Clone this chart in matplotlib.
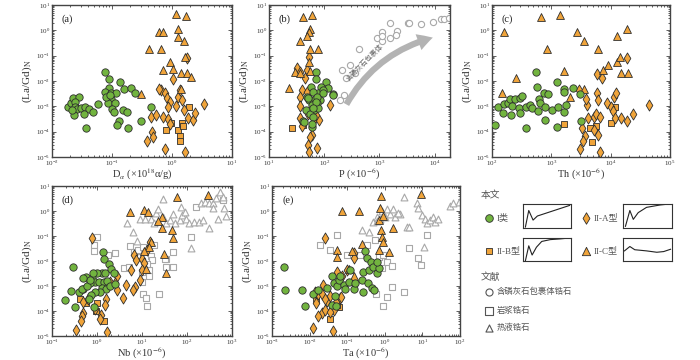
import matplotlib
matplotlib.use('Agg')
import matplotlib.pyplot as plt
from matplotlib.patches import FancyArrowPatch
from matplotlib.ticker import FixedLocator, NullFormatter
import numpy as np

plt.rcParams['font.family'] = ['Liberation Serif', 'Noto Sans CJK SC', 'DejaVu Sans']
plt.rcParams['mathtext.fontset'] = 'stix'

# ---------------- data ----------------
# panel (a): alpha dose
a_I_x = [0.077,0.088,0.138,0.09,0.077,0.097,0.117,0.156,0.207,0.245,0.096,0.086,0.111,0.1,0.107,0.15,0.178,0.129,0.123,0.185,
         0.30,0.45,0.037,0.0185,0.021,0.022,0.028,0.0245,0.024,0.026,0.023,0.0215,0.031,0.036,0.041,0.034,0.049,0.058,0.079,0.093]
a_I_y = [2.3e-2,1.2e-2,8.9e-3,5.5e-3,3.8e-3,3.3e-3,3.3e-3,4.7e-3,5.1e-3,3.3e-3,1.9e-3,1.4e-3,1.3e-3,7.9e-4,6.2e-4,7.1e-4,6.2e-4,2.7e-4,1.8e-4,1.35e-4,
         2.6e-4,9.8e-4,1.35e-4,9.8e-4,1.3e-3,2.1e-3,2.3e-3,1.5e-3,9.8e-4,7.6e-4,4.6e-4,7.1e-4,8.3e-4,9.8e-4,7.6e-4,5.2e-4,5.8e-4,1.2e-3,2.4e-3,2.8e-3]
a_IIA_x = [0.65,0.76,0.81,0.93,1.05,1.15,1.28,1.36,1.8,1.44,0.87,0.45,0.55,0.72,0.87,0.93,1.6,1.87,2.2,2.4,3.4,0.46,0.48,0.39,0.76,1.65,0.6]
a_IIA_y = [4.4e-3,3.5e-3,2.1e-3,1.5e-3,1.2e-2,1.0e-3,2.4e-3,4.4e-3,0.08,1.8e-3,9.8e-4,3.9e-4,4.6e-4,3.7e-4,3.1e-4,2.0e-4,7.2e-4,3.4e-4,2.9e-4,5.6e-4,1.2e-3,1e-4,6.3e-5,4.4e-5,2e-5,1.6e-5,5e-3]
a_IIB_x = [0.78,0.95,1.45,1.28,1.35,1.36,1.95,1.5]
a_IIB_y = [1.2e-4,2.3e-4,2.3e-4,1.2e-4,6.8e-5,4.1e-5,9e-4,1.7e-4]
a_IIC_x = [1.15,1.71,0.61,0.72,1.28,1.28,1.6,0.41,0.65,0.93,1.65,0.72,1.05,1.41,1.75,2.1,1.41,0.31]
a_IIC_y = [4.4,3.7,0.89,0.89,1.1,0.56,0.39,0.18,0.19,0.058,0.085,0.027,0.029,0.021,0.021,0.014,4.7e-3,3.2e-3]

# panel (b): P
b_I_x = [70,70,107,57,89,117,145,78,63,49,54,68,83,59,73,47,65,78,55,63,42,59,75,95,95,145,51,72,63,43,59]
b_I_y = [0.023,0.012,9.4e-3,5.6e-3,5.6e-3,5.1e-3,3.2e-3,3.5e-3,3.8e-3,2.4e-3,1.8e-3,1.9e-3,1.8e-3,1.1e-3,1.3e-3,7.2e-4,7.2e-4,8.3e-4,5.2e-4,3.7e-4,
         2.7e-4,1.5e-4,2.3e-3,4.4e-3,3.5e-3,2.8e-3,2.1e-3,1.5e-3,8.3e-4,2.5e-4,2.1e-4]
b_IIA_x = [53,32,36,48,45,40,48,36,37,51,36,68,81,61,59,55,51,53,75,126,70,40]
b_IIA_y = [0.085,0.032,0.023,0.027,0.013,4.4e-3,3.8e-3,2.4e-3,1.0e-3,5.2e-4,3.4e-4,3.4e-4,2.9e-4,1.7e-4,7.4e-5,6e-5,3e-5,1.6e-5,2.2e-5,1.1e-3,4.6e-4,1.6e-4]
b_IIB_x = [26,41.5]
b_IIB_y = [1.35e-4,1.8e-4]
b_IIC_x = [42,61,55,53,48,37,55,78,53,30,37,55,23]
b_IIC_y = [3.5,4.0,1.1,0.89,0.6,0.39,0.18,0.19,0.055,0.023,0.02,0.025,5.1e-3]
b_ap_x = [192,230,214,245,290,355,425,890,1100,1130,1100,1550,1550,2100,2000,3300,3500,5700,9300,13000,14500,18500]
b_ap_y = [1.8e-3,2.8e-3,0.026,0.0135,0.043,0.02,0.18,0.51,0.89,0.39,0.62,0.48,2.0,0.98,0.66,2.0,1.9,1.7,2.2,2.7,2.7,3.0]

# panel (c): Th
c_I_x = [114,126,154,159,184,204,217,213,246,280,300,318,300,380,380,440,470,560,575,590,
         610,650,740,790,790,870,1020,1240,1270,1310,1620,1660,1660,1780,2300,3080,3180]
c_I_y = [1.8e-4,9.2e-4,5.6e-4,1.2e-3,1.3e-3,1.9e-3,1.0e-3,4.6e-4,1.9e-3,8.3e-4,2.1e-3,2.6e-3,5.6e-4,9.8e-4,1.35e-4,1.1e-3,8.3e-4,0.023,5.6e-3,6.8e-4,
         2e-3,1.4e-3,3.5e-3,9.2e-4,2.9e-4,3.2e-3,7.2e-4,9.4e-3,1.5e-4,9.2e-4,4.7e-3,6.2e-4,3.8e-3,1.1e-3,5.1e-3,3.2e-3,2.7e-4]
c_IIA_x = [2870,3970,3900,4100,3250,3700,3400,3080,5150,5700,5900,6000,5900,6600,5150,6140,6600,7250,8550,10000,
           10900,11500,11900,12300,14800,18700,18700,24200,44600]
c_IIA_y = [4.4e-3,1.1e-3,1.9e-3,3.4e-4,1.35e-4,6.8e-5,4.1e-5,2e-5,3.9e-4,4.8e-4,3.5e-3,1.7e-3,0.019,3.9e-4,1.2e-4,7.4e-5,1.6e-5,0.013,1.3e-3,9.8e-4,
           6.6e-4,2.4e-3,3.4e-4,3.5e-3,3.4e-4,2.7e-4,0.08,5.2e-4,1.1e-3]
c_IIB_x = [1620,4400,4800,5700,10000,11900]
c_IIB_y = [2.1e-4,1.35e-4,3.8e-5,1.6e-4,2.3e-4,9e-4]
c_IIC_x = [158,148,256,665,845,1410,1620,2760,3500,3500,2080,6140,7400,9100,12600,12600,14400,14800,18700,19800]
c_IIC_y = [0.89,3.5e-3,0.013,3.5,0.18,4.0,0.025,0.89,0.39,4.7e-3,2.3e-3,0.19,0.027,0.043,0.6,0.058,0.085,0.021,1.1,0.02]

# panel (d): Nb
d_I_x = [1.36,1.4,1.88,2.08,1.29,1.53,2.34,1.0,0.77,0.89,0.71,1.09,1.4,1.66,1.29,1.58,1.19,0.92,0.75,1.98,
         2.55,0.30,0.26,0.19,0.33,0.39,0.5,0.84,0.65,0.46,0.57,0.61,0.83,0.7,0.49]
d_I_y = [0.022,0.0115,7.9e-3,4.7e-3,3.4e-3,3.4e-3,3.2e-3,3.4e-3,2e-3,1.4e-3,1.3e-3,1.4e-3,1.4e-3,1.6e-3,8.7e-4,7.4e-4,5.9e-4,5.5e-4,4.3e-4,1e-3,
         1.2e-3,5.7e-3,6.5e-4,2.7e-4,1.4e-4,5.5e-4,7.9e-4,1.4e-4,3e-4,7.6e-4,2.3e-3,1.0e-3,3.3e-3,1.8e-3,2.1e-3]
d_IIA_x = [0.77,6.6,7.3,5.6,10,12.6,15,11,10,9.1,7.1,6.2,4.5,3.7,2.8,2.5,2.8,1.95,1.6,1.5,0.91,1.2,1.14,0.5,0.5,0.46,0.43,0.35,0.62,1.66]
d_IIA_y = [0.081,0.018,0.011,4.5e-3,0.012,0.028,0.055,8.1e-3,4.5e-3,1.7e-3,9.2e-4,7.1e-4,1.1e-3,3.3e-4,2.6e-3,1.3e-3,7.1e-4,1.5e-3,2.9e-4,1.7e-4,
           1.2e-4,7.2e-5,4.6e-5,2.2e-4,8.5e-5,6.3e-5,4e-5,1.8e-5,2.9e-4,1.4e-5]
d_IIB_x = [0.57,0.94,1.0,1.45,0.42]
d_IIB_y = [2.1e-4,1.0e-4,2.1e-4,4e-5,3e-4]
d_IIC_x = [5.4,11,13.8,27.5,23,28,47,48,15.5,14.5,31.5,34,59,300,11,12]
d_IIC_y = [0.93,1.08,0.93,0.55,0.41,0.2,0.18,0.083,0.056,0.038,0.019,3.4e-3,3.6,4.4,0.025,4.8e-3]
d_mag_x = [1.0,0.87,0.87,1.8,2.5,5.4,4,5.2,6.6,7.6,8.3,10,10,10.6,12.3,12.6,14.5,14.5,16,17,18.5,24,35,35,49,49,125,162,630,10.7,13.2,32]
d_mag_y = [0.093,0.044,0.024,0.018,0.02,0.04,5.2e-3,6e-3,0.022,0.014,0.028,3.8e-3,1.5e-3,4.6e-4,3.3e-4,1.55e-4,2.4e-3,4.5e-3,0.016,0.011,
           0.044,5e-4,0.012,6e-3,0.022,6e-3,0.093,1.4,2.7,0.035,7.8e-3,0.012]
d_hyd_x = [4.6,6.2,7.6,9.1,11.7,15.5,18.5,21,23,29.5,35,42,49,54,69,79,75,89,97,112,142,186,229,200,245,316,380,436,537,630,660,725,490,380,310,120,30]
d_hyd_y = [0.34,0.15,0.065,0.46,0.46,0.5,0.32,0.85,1.15,0.59,0.32,0.43,0.79,0.34,0.43,0.68,1.5,0.93,0.5,0.32,0.37,0.37,0.43,2.1,2.3,2.0,2.1,3.2,5.8,3.6,
           1.26,0.63,0.5,1.26,0.2,0.032,3.0]

# panel (e): Ta
e_I_x = [2.05e-3,2.25e-3,6.3e-3,7.6e-3,0.0122,0.0163,0.029,0.039,0.044,0.053,0.059,0.065,0.08,0.089,0.048,0.039,0.051,0.11,0.155,0.163,
         0.245,0.27,0.3,0.26,0.35,0.39,0.33,0.43,0.45,0.5,0.52,0.62,0.68,0.62,0.12]
e_I_y = [6e-3,7.1e-4,7.1e-4,1.55e-4,4.6e-4,7.1e-4,8.3e-4,2.4e-3,1.3e-3,9.8e-4,1.8e-3,2.6e-3,1.1e-3,7.6e-4,3.9e-4,1.8e-4,1.55e-4,1.4e-3,7.6e-4,1.3e-3,
         1.8e-3,3.8e-3,0.024,5.6e-4,1.3e-3,4.5e-3,0.013,9.5e-3,8.3e-4,6e-3,7.1e-4,3.3e-3,5.2e-3,9.5e-3,4.5e-3]
e_IIA_x = [0.026,0.149,0.155,0.053,0.072,0.098,0.023,0.017,0.015,0.021,0.025,0.029,0.035,0.065,0.051,0.044,0.017,0.0123,0.042,
           0.0135,0.021,0.026,0.069,0.035]
e_IIA_y = [0.081,0.02,0.013,3.8e-3,2.6e-3,4.5e-3,1.1e-3,4.6e-4,2.1e-4,8.5e-5,1.1e-4,2.4e-4,3.9e-4,3.3e-4,2.2e-4,1.1e-4,6.3e-5,2.1e-5,1.6e-5,
           5.5e-4,4.7e-4,3e-4,3.5e-4,8.9e-5]
e_IIB_x = [0.059,0.035,0.015,0.055]
e_IIB_y = [1.4e-4,4.6e-5,2.8e-4,1.8e-4]
e_IIC_x = [0.072,0.2,0.78,9.1,0.76,0.68,0.91,0.78,0.83,0.89,0.72,1.7,1.32,0.055,0.055,0.134,0.245,0.115,0.15]
e_IIC_y = [1.0,1.0,3.9,4.7,1.26,0.43,0.63,0.18,0.093,0.059,0.028,0.2,0.022,0.028,0.014,0.025,0.046,4.9e-3,2.5e-3]
e_mag_x = [0.0186,0.035,0.053,0.098,0.22,0.33,0.55,0.72,0.91,0.83,1.12,1.58,0.59,0.89,1.17,1.55,3.2,4.3,7.8,9.1,13]
e_mag_y = [0.044,0.028,0.11,0.018,0.018,0.044,0.069,0.015,0.018,5.2e-3,9.5e-3,6.5e-3,4.6e-4,1.55e-4,3.6e-4,9.2e-4,5.6e-4,0.032,0.013,7.1e-3,0.11]
e_hyd_x = [0.245,0.39,0.5,0.62,0.83,1.12,1.38,1.7,1.86,2.6,3.2,3.8,7.1,7.8,9.6,11.7,13,16,19.5,21.7,26.5,10.7,54,96,66,1.0,0.74,0.63,2.3,4.3]
e_hyd_y = [0.17,0.15,0.37,0.59,1.0,1.15,0.79,1.15,0.59,0.79,3.5,0.23,2.0,1.26,0.68,0.5,0.32,0.43,0.59,0.37,0.5,0.038,1.55,2.3,2.0,0.55,0.48,0.41,0.87,0.22]

# legend schematic patterns (normalised)
pat_I = ([0.05,0.12,0.21,0.30,0.97], [0.04,0.73,0.33,0.5,0.94])
pat_IIA = ([0.05,0.14,0.21,0.31,0.48,0.76,0.95], [0.07,0.73,0.36,0.64,0.86,0.96,1.0])
pat_IIB = ([0.05,0.12,0.19,0.28,0.39,0.57,0.77,0.97], [0.01,0.66,0.26,0.6,0.85,0.93,0.96,1.0])
pat_IIC = ([0.03,0.14,0.24,0.48,0.69,0.83,0.97], [0.44,0.63,0.49,0.44,0.38,0.41,0.51])

# ---------------- styling ----------------
GREEN = '#72b43f'
ORANGE = '#f0a43a'
EDGE = '#2e2e2e'
GRAY = '#a8a8a8'
AX = '#444444'

fig = plt.figure(figsize=(7, 3.6), dpi=100)


def px_axes(x0, y0, x1, y1):
    return fig.add_axes([x0 / 700, 1 - y1 / 360, (x1 - x0) / 700, (y1 - y0) / 360])


def decade_ticks(lo, hi):
    e0, e1 = int(np.ceil(np.log10(lo) - 1e-9)), int(np.floor(np.log10(hi) + 1e-9))
    major = [10.0 ** e for e in range(e0, e1 + 1)]
    minor = [m * 10.0 ** e for e in range(e0 - 1, e1 + 1) for m in range(2, 10)
             if lo <= m * 10.0 ** e <= hi]
    return major, minor


def style(ax, xlim, xlabel, letter):
    ylim = (1e-5, 10)
    ax.set_xscale('log')
    ax.set_yscale('log')
    ax.set_xlim(*xlim)
    ax.set_ylim(*ylim)
    for axis, lim in ((ax.xaxis, xlim), (ax.yaxis, ylim)):
        major, minor = decade_ticks(*lim)
        axis.set_major_locator(FixedLocator(major))
        axis.set_minor_locator(FixedLocator(minor))
        axis.set_minor_formatter(NullFormatter())
    ax.tick_params(which='both', direction='in', top=True, right=True, labelsize=5,
                   pad=1.5, width=0.6, color=AX, labelcolor='#333333')
    ax.tick_params(which='major', length=3)
    ax.tick_params(which='minor', length=1.6)
    for s in ax.spines.values():
        s.set_linewidth(1.0)
        s.set_color(AX)
    ax.set_xlabel(xlabel, fontsize=7.5, labelpad=-1, color='#333333')
    ax.set_ylabel('(La/Gd)$_\\mathrm{N}$', fontsize=8, labelpad=1, color='#333333')
    ax.text(0.055, 0.935, letter, transform=ax.transAxes, fontsize=7.5, va='top', color='#222222')


def sample(ax, I, IIA, IIB, IIC):
    ax.scatter(*IIB, marker='s', s=20, c=ORANGE, edgecolors=EDGE, linewidths=0.6, zorder=3)
    ax.scatter(*IIA, marker='d', s=32, c=ORANGE, edgecolors=EDGE, linewidths=0.6, zorder=3)
    ax.scatter(*IIC, marker='^', s=32, c=ORANGE, edgecolors=EDGE, linewidths=0.6, zorder=3)
    ax.scatter(*I, marker='o', s=28, c=GREEN, edgecolors=EDGE, linewidths=0.6, zorder=4)


def gray(ax, xy, marker, s):
    ax.scatter(*xy, marker=marker, s=s, facecolors='white', edgecolors=GRAY, linewidths=0.8, zorder=2)


axa = px_axes(52, 5, 232, 157)
style(axa, (1e-2, 10), 'D$_\\alpha$ (×10$^{18}$α/g)', '(a)')
sample(axa, (a_I_x, a_I_y), (a_IIA_x, a_IIA_y), (a_IIB_x, a_IIB_y), (a_IIC_x, a_IIC_y))

axb = px_axes(269, 5, 450, 157)
style(axb, (10, 1.9e4), 'P (×10$^{-6}$)', '(b)')
gray(axb, (b_ap_x, b_ap_y), 'o', 20)
sample(axb, (b_I_x, b_I_y), (b_IIA_x, b_IIA_y), (b_IIB_x, b_IIB_y), (b_IIC_x, b_IIC_y))
arrow = FancyArrowPatch((0.42, 0.33), (0.92, 0.79), transform=axb.transAxes,
                        connectionstyle='arc3,rad=-0.22',
                        arrowstyle='simple,tail_width=0.5,head_width=1.35,head_length=1.2',
                        mutation_scale=9, color='#b3b3b3', lw=0, zorder=1)
axb.add_patch(arrow)
axb.text(0.53, 0.62, '含磷灰石包裹体', transform=axb.transAxes, rotation=45, fontsize=5,
         color='#666666', ha='center', va='center', family=['Noto Sans CJK SC'])

axc = px_axes(492, 5, 670, 157)
style(axc, (1e2, 1e5), 'Th (×10$^{-6}$)', '(c)')
sample(axc, (c_I_x, c_I_y), (c_IIA_x, c_IIA_y), (c_IIB_x, c_IIB_y), (c_IIC_x, c_IIC_y))

axd = px_axes(52, 186, 232, 336)
style(axd, (1e-1, 1e3), 'Nb (×10$^{-6}$)', '(d)')
gray(axd, (d_mag_x, d_mag_y), 's', 18)
gray(axd, (d_hyd_x, d_hyd_y), '^', 24)
sample(axd, (d_I_x, d_I_y), (d_IIA_x, d_IIA_y), (d_IIB_x, d_IIB_y), (d_IIC_x, d_IIC_y))

axe = px_axes(272, 186, 460, 336)
style(axe, (1e-3, 1e2), 'Ta (×10$^{-6}$)', '(e)')
gray(axe, (e_mag_x, e_mag_y), 's', 18)
gray(axe, (e_hyd_x, e_hyd_y), '^', 24)
sample(axe, (e_I_x, e_I_y), (e_IIA_x, e_IIA_y), (e_IIB_x, e_IIB_y), (e_IIC_x, e_IIC_y))

# ---------------- legend panel ----------------
lg = fig.add_axes([0, 0, 1, 1], facecolor='none')
lg.set_xlim(0, 700)
lg.set_ylim(360, 0)
lg.axis('off')
CJK = ['Liberation Serif', 'Noto Sans CJK SC']
TXT = '#555555'
lg.text(481, 195, '本文', fontsize=7, va='center', color=TXT, family=CJK)
lg.text(481, 277, '文献', fontsize=7, va='center', color=TXT, family=CJK)

items = [(489, 218, 'o', GREEN, 'I类', 30), (586, 218, 'd', ORANGE, 'II-A型', 34),
         (489, 251, 's', ORANGE, 'II-B型', 22), (586, 251, '^', ORANGE, 'II-C型', 36)]
for x, y, m, c, t, s in items:
    lg.scatter([x], [y], marker=m, s=s, c=c, edgecolors=EDGE, linewidths=0.6, clip_on=False)
    lg.text(x + 8, y, t, fontsize=6.5, va='center', color=TXT, family=CJK)

refs = [(489, 292, 'o', '含磷灰石包裹体锆石'), (489, 311, 's', '岩浆锆石'), (489, 328, '^', '热液锆石')]
for x, y, m, t in refs:
    lg.scatter([x], [y], marker=m, s=26, facecolors='white', edgecolors='#555555', linewidths=0.8, clip_on=False)
    lg.text(x + 8, y, t, fontsize=6, va='center', color=TXT, family=CJK)

boxes = [((523, 204, 571, 228), pat_I), ((623, 204, 672, 228), pat_IIA),
         ((523, 238, 571, 261), pat_IIB), ((623, 238, 672, 261), pat_IIC)]
for (x0, y0, x1, y1), (px_, py_) in boxes:
    bx = px_axes(x0, y0, x1, y1)
    bx.plot(px_, py_, color='#222222', lw=0.8)
    bx.set_xlim(0, 1)
    bx.set_ylim(0, 1)
    bx.set_xticks([])
    bx.set_yticks([])
    for s in bx.spines.values():
        s.set_linewidth(0.8)
        s.set_color('#333333')

fig.savefig('out.png', dpi=100)
